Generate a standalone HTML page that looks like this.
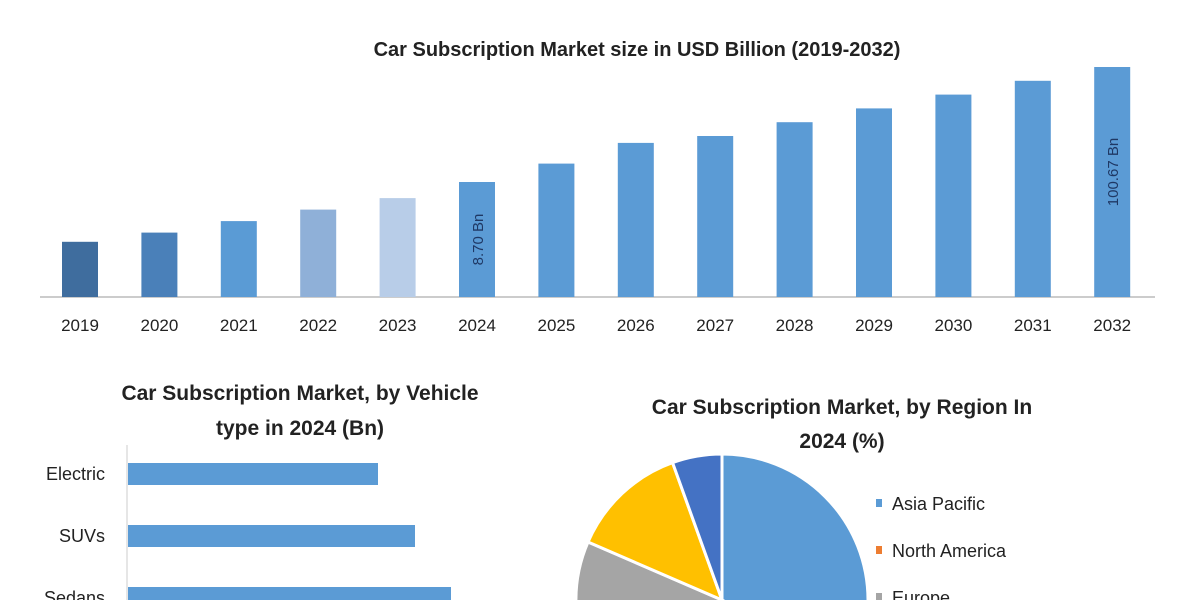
<!DOCTYPE html>
<html><head><meta charset="utf-8"><style>
html,body{margin:0;padding:0;background:#fff;width:1200px;height:600px;overflow:hidden}
svg{display:block;font-family:"Liberation Sans",sans-serif}
</style></head><body>
<svg id="c" width="1200" height="600" viewBox="0 0 1200 600">
<defs><clipPath id="frame"><rect x="0" y="0" width="1200" height="600"/></clipPath></defs>
<g clip-path="url(#frame)">
<text x="637" y="56" text-anchor="middle" font-size="20" font-weight="bold" fill="#222">Car Subscription Market size in USD Billion (2019-2032)</text>
<line x1="40" y1="297" x2="1155" y2="297" stroke="#ccc" stroke-width="2"/>
<g id="bars"></g>
<text x="300" y="400" text-anchor="middle" font-size="21" font-weight="bold" fill="#222">Car Subscription Market, by Vehicle</text>
<text x="300" y="435" text-anchor="middle" font-size="21" font-weight="bold" fill="#222">type in 2024 (Bn)</text>
<line x1="127" y1="445" x2="127" y2="600" stroke="#ddd" stroke-width="1.5"/>
<g id="hbars"></g>
<text x="842" y="414" text-anchor="middle" font-size="21" font-weight="bold" fill="#222">Car Subscription Market, by Region In</text>
<text x="842" y="448" text-anchor="middle" font-size="21" font-weight="bold" fill="#222">2024 (%)</text>
<g id="pie"></g>
<g id="legend"></g>
</g>
</svg>
<script>
const years=["2019","2020","2021","2022","2023","2024","2025","2026","2027","2028","2029","2030","2031","2032"];
const sizes=[24,28,33,38,43,50,58,67,70,76,82,88,94,100];
const barColors=["#3f6d9e","#4a80b9","#5a9bd5","#8fb0d8","#b8cde8","#5b9bd5","#5b9bd5","#5b9bd5","#5b9bd5","#5b9bd5","#5b9bd5","#5b9bd5","#5b9bd5","#5b9bd5"];
const barLabels=["","","","","","8.70 Bn","","","","","","","","100.67 Bn"];
const vehicleTypes=["Electric","SUVs","Sedans"];
const vehicleValues=[250,287,323];
const regions=["Asia Pacific","North America","Europe","Latin America","Middle East & Africa"];
const regionShares=[50,14,17.5,13,5.5];
const regionColors=["#5b9bd5","#ed7d31","#a5a5a5","#ffc000","#4472c4"];
const NS="http://www.w3.org/2000/svg";
function mk(t,a,p){const e=document.createElementNS(NS,t);for(const k in a)e.setAttribute(k,a[k]);p.appendChild(e);return e;}
const x0=80,step=79.4,bw=36,base=297,yScale=2.3;
const xs=i=>x0+i*step, ys=v=>base-v*yScale;
const gb=document.getElementById('bars');
years.forEach((y,i)=>{
 const r=mk('rect',{x:xs(i)-bw/2,y:ys(sizes[i]),width:bw,height:base-ys(sizes[i]),fill:barColors[i]},gb);
 
 
 const t=mk('text',{x:xs(i),y:331,'text-anchor':'middle','font-size':17,fill:'#222'},gb);t.textContent=y;
 
 
 if(barLabels[i]){
  const cy=(ys(sizes[i])+base)/2+(i===5?0:-10);
  const l=mk('text',{x:xs(i)+6,y:cy,'text-anchor':'middle','font-size':15,fill:'#1f3864',transform:`rotate(-90 ${xs(i)+6} ${cy})`},gb);l.textContent=barLabels[i];
  
  
 }
});
const gh=document.getElementById('hbars');
const hx=v=>128+v;const hy=i=>463+i*62;
vehicleTypes.forEach((v,i)=>{
 const r=mk('rect',{x:128,y:hy(i),width:hx(vehicleValues[i])-128,height:22,fill:'#5b9bd5'},gh);
 
 
 const t=mk('text',{x:105,y:hy(i)+17,'text-anchor':'end','font-size':18,fill:'#222'},gh);t.textContent=v;
 
 
});
const gp=document.getElementById('pie');
const cx=722,cy=600,R=146;
const total=regionShares.reduce((a,b)=>a+b,0);
let a=0;
regionShares.forEach((s,i)=>{
 const a1=a+s/total*2*Math.PI;
 const p=(an)=>[cx+R*Math.sin(an),cy-R*Math.cos(an)];
 const [xA,yA]=p(a),[xB,yB]=p(a1);
 const large=(a1-a)>Math.PI?1:0;
 const path=mk('path',{d:`M${cx},${cy}L${xA},${yA}A${R},${R} 0 ${large} 1 ${xB},${yB}Z`,fill:regionColors[i],stroke:'#fff','stroke-width':3},gp);
 
 
 a=a1;
});
const gl=document.getElementById('legend');
regions.slice(0,3).forEach((r,i)=>{
 const ly=504+i*47;
 const m=mk('rect',{x:876,y:ly-5,width:6,height:8,fill:regionColors[i]},gl);
 
 
 const t=mk('text',{x:892,y:ly+6,'font-size':18,fill:'#222'},gl);t.textContent=r;
 
 
});
</script>
</body></html>
